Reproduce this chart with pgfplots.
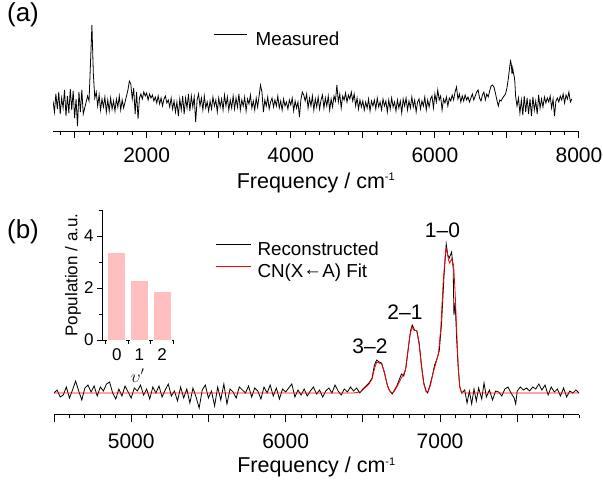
\documentclass[border=0pt]{standalone}
\usepackage{fontspec}
\setmainfont{Liberation Sans}
\usepackage{pgfplots}
\pgfplotsset{compat=1.18}
\definecolor{barpink}{RGB}{255,191,191}
\newcommand{\fs}[1]{\fontsize{#1}{#1}\selectfont}
\begin{document}
\begin{tikzpicture}[x=1pt,y=1pt]
\path[use as bounding box] (0,0) rectangle (603,483);
% ---------------- panel (a)
\begin{axis}[
  at={(53pt,351.3pt)}, anchor=south west, scale only axis,
  width=526pt, height=131.7pt,
  xmin=700, xmax=8000, ymin=-27.7, ymax=104,
  axis x line*=bottom, axis y line=none,
  axis line style={-, line width=1pt},
  xtick={1000,2000,3000,4000,5000,6000,7000,8000},
  xticklabels={,2000,,4000,,6000,,8000},
  minor xtick={800,1000,...,7800},
  tick align=outside, major tick length=6.5pt, minor tick length=3.5pt,
  tick style={line width=1pt, black},
  xticklabel style={font=\fs{21}, anchor=base, yshift=-24.5pt},
  xlabel={Frequency / cm\textsuperscript{\fs{11}-1}},
  xlabel style={font=\fs{21.5}, at={(axis description cs:0.5,-0.4275)}, anchor=base},
  legend style={at={(axis description cs:0.3045,0.696)}, anchor=west, draw=none, fill=none,
    inner sep=0pt, font=\fs{18.8}, legend cell align=left,
    nodes={inner sep=0pt, text height=14pt, text depth=4pt},
    /tikz/every odd column/.append style={column sep=8.5pt}},
  legend image code/.code={\draw[#1] (0pt,6pt) -- (33pt,6pt);},
]
\addplot[black, line width=0.8pt] coordinates {
(700,3) (720,-8) (740,10) (760,-5) (780,12) (800,-10) (820,6) (840,-4) (860,14) (880,-12)
(900,8) (920,-9) (940,15) (960,-6) (980,13) (1000,-14) (1020,5) (1040,-22) (1060,12) (1080,-8)
(1100,14) (1120,-10) (1140,-4) (1160,2) (1180,8) (1200,3) (1220,40) (1240,79) (1260,30) (1280,6)
(1300,12) (1320,-2) (1340,9) (1360,-6) (1380,5) (1400,-3) (1420,7) (1440,-8) (1460,4) (1480,-7)
(1500,6) (1520,-5) (1540,3) (1560,-7) (1580,5) (1600,-3) (1620,8) (1640,-6) (1660,4) (1680,-4)
(1700,2) (1720,8) (1740,14) (1760,23) (1780,20) (1800,5) (1820,16) (1840,-10) (1860,12) (1880,-15)
(1900,6) (1920,10) (1940,5) (1960,12) (1980,8) (2000,11) (2020,4) (2040,10) (2060,6) (2080,9)
(2100,3) (2120,7) (2140,1) (2160,8) (2180,0) (2200,6) (2220,-2) (2240,5) (2260,8) (2280,1)
(2300,4) (2320,-3) (2340,6) (2360,-5) (2380,3) (2400,-8) (2420,2) (2440,-12) (2460,5) (2480,-6)
(2500,8) (2520,-10) (2540,6) (2560,-4) (2580,10) (2600,-7) (2620,8) (2640,-3) (2660,7) (2680,-18)
(2700,4) (2720,10) (2740,-2) (2760,6) (2780,-6) (2800,8) (2820,-4) (2840,2) (2860,-7) (2880,3)
(2900,-5) (2920,7) (2940,-2) (2960,4) (2980,-8) (3000,6) (3020,-3) (3040,5) (3060,-6) (3080,9)
(3100,-2) (3120,7) (3140,-6) (3160,4) (3180,-4) (3200,8) (3220,-5) (3240,6) (3260,-3) (3280,10)
(3300,-6) (3320,4) (3340,-2) (3360,7) (3380,-7) (3400,5) (3420,0) (3440,9) (3460,-4) (3480,3)
(3500,-6) (3520,6) (3540,-3) (3560,8) (3580,19) (3600,12) (3620,-8) (3640,4) (3660,-2) (3680,7)
(3700,-5) (3720,2) (3740,6) (3760,-3) (3780,4) (3800,-2) (3820,8) (3840,-4) (3860,3) (3880,-6)
(3900,5) (3920,-2) (3940,2) (3960,-5) (3980,4) (4000,-1) (4020,6) (4040,-7) (4060,3) (4080,-4)
(4100,2) (4120,-13) (4140,4) (4160,12) (4180,9) (4200,3) (4220,10) (4240,-4) (4260,6) (4280,-2)
(4300,8) (4320,-6) (4340,5) (4360,-3) (4380,7) (4400,-5) (4420,4) (4440,9) (4460,-4) (4480,6)
(4500,-2) (4520,8) (4540,-6) (4560,5) (4580,-3) (4600,8) (4620,3) (4640,19) (4660,2) (4680,10)
(4700,-4) (4720,8) (4740,4) (4760,11) (4780,2) (4800,9) (4820,5) (4840,12) (4860,3) (4880,10)
(4900,-2) (4920,6) (4940,-5) (4960,4) (4980,-3) (5000,3) (5020,-6) (5040,2) (5060,-4) (5080,5)
(5100,-7) (5120,3) (5140,-2) (5160,4) (5180,-5) (5200,6) (5220,-3) (5240,2) (5260,-6) (5280,5)
(5300,-2) (5320,3) (5340,-8) (5360,4) (5380,-5) (5400,6) (5420,-3) (5440,2) (5460,-7) (5480,4)
(5500,-4) (5520,3) (5540,-9) (5560,5) (5580,-2) (5600,6) (5620,-6) (5640,3) (5660,-4) (5680,7)
(5700,-3) (5720,4) (5740,-8) (5760,2) (5780,5) (5800,-5) (5820,3) (5840,-2) (5860,7) (5880,-6)
(5900,4) (5920,-3) (5940,5) (5960,8) (5980,-4) (6000,10) (6020,2) (6040,14) (6060,4) (6080,8)
(6100,-6) (6120,5) (6140,1) (6160,7) (6180,-2) (6200,6) (6220,3) (6240,9) (6260,4) (6280,12)
(6300,17) (6320,5) (6340,10) (6360,2) (6380,8) (6400,3) (6420,9) (6440,4) (6460,7) (6480,2)
(6500,6) (6520,10) (6540,4) (6560,8) (6580,12) (6600,14) (6620,6) (6640,3) (6660,9) (6680,12)
(6700,4) (6720,10) (6740,7) (6760,13) (6780,18) (6800,19) (6820,17) (6840,11) (6860,4) (6880,-2)
(6900,4) (6920,3) (6940,6) (6960,8) (6980,10) (7000,16) (7020,26) (7040,38) (7050,43) (7060,40)
(7070,30) (7080,36) (7090,31) (7100,28) (7110,22) (7120,8) (7140,-2) (7160,6) (7180,-9) (7200,4)
(7220,-11) (7240,8) (7260,-8) (7280,6)
(7300,-10) (7320,5) (7340,-12) (7360,7) (7380,-6) (7400,3) (7420,-10) (7440,9) (7460,-4) (7480,5)
(7500,-3) (7520,7) (7540,1) (7560,6) (7580,2) (7600,8) (7620,-4) (7640,5) (7660,-12) (7680,3)
(7700,6) (7720,2) (7740,8) (7760,4) (7780,10) (7800,1) (7820,9) (7840,5) (7860,12) (7880,2) (7900,5)
};
\addlegendentry{Measured}
\end{axis}
\node[font=\fs{26}] at (23,468) {(a)};
% ---------------- panel (b)
\begin{axis}[
  at={(54pt,68.5pt)}, anchor=south west, scale only axis,
  width=525pt, height=214.5pt,
  xmin=4500, xmax=7900, ymin=-21.5, ymax=193,
  axis x line*=bottom, axis y line=none,
  axis line style={-, line width=1pt},
  xtick={4500,5000,5500,6000,6500,7000,7500},
  xticklabels={,5000,,6000,,7000,},
  minor xtick={4600,4700,...,7900},
  tick align=outside, major tick length=7pt, minor tick length=3.8pt,
  tick style={line width=1pt, black},
  xticklabel style={font=\fs{21}, anchor=base, yshift=-27pt},
  xlabel={Frequency / cm\textsuperscript{\fs{11}-1}},
  xlabel style={font=\fs{21.5}, at={(axis description cs:0.5,-0.2713)}, anchor=base},
  legend style={at={(axis description cs:0.3067,0.7156)}, anchor=west, draw=none, fill=none,
    inner sep=0pt, font=\fs{18.8}, legend cell align=left,
    nodes={inner sep=0pt, text height=14pt, text depth=4pt},
    /tikz/every odd column/.append style={column sep=6.5pt},
    row sep=4pt},
  legend image code/.code={\draw[#1] (0pt,6pt) -- (35pt,6pt);},
]
\addplot[black, line width=0.8pt] coordinates {
(4500,0) (4520,3) (4540,-4) (4560,-2) (4580,6) (4600,-5) (4620,3) (4640,12) (4660,2) (4680,-7)
(4700,5) (4720,8) (4740,1) (4760,7) (4780,-3) (4800,6) (4820,2) (4840,9) (4860,11) (4880,0)
(4900,-6) (4920,4) (4940,-3) (4960,7) (4980,1) (5000,-5) (5020,5) (5040,2) (5060,8) (5080,-2)
(5100,4) (5120,-6) (5140,6) (5160,0) (5180,7) (5200,-4) (5220,3) (5240,9) (5260,-3) (5280,2)
(5300,-8) (5320,6) (5340,-5) (5360,4) (5380,-10) (5400,5) (5420,-4) (5440,-15) (5460,3) (5480,8)
(5500,-5) (5520,2) (5540,-13) (5560,6) (5580,-7) (5600,9) (5620,-11) (5640,4) (5660,1) (5680,-5)
(5700,6) (5720,3) (5740,0) (5760,7) (5780,-4) (5800,5) (5820,2) (5840,-6) (5860,6) (5880,0)
(5900,8) (5920,-3) (5940,5) (5960,-6) (5980,4) (6000,1) (6020,5) (6040,9) (6060,-4) (6080,3)
(6100,-2) (6120,4) (6140,-3) (6160,2) (6180,6) (6200,-1) (6220,3) (6240,-4) (6260,2) (6280,5)
(6300,0) (6320,8) (6340,2) (6360,-2) (6380,4) (6400,1) (6420,6) (6440,2) (6460,5) (6480,0)
(6500,4) (6520,7) (6540,10) (6560,15) (6575,28) (6590,33) (6605,31) (6622,30) (6640,20) (6660,7)
(6675,2) (6690,-1) (6705,3) (6720,7) (6735,13) (6750,19) (6765,17) (6780,26) (6795,45) (6810,63)
(6820,68) (6835,63) (6850,62) (6865,50) (6880,28) (6895,10) (6910,2) (6920,0) (6935,8) (6950,17)
(6965,28) (6980,34) (6995,42) (7010,70) (7025,115) (7040,149) (7050,138) (7060,135) (7075,141) (7085,125)
(7090,78) (7098,90) (7108,53) (7118,25) (7128,6) (7140,0) (7160,3) (7175,-10) (7190,2) (7205,-11)
(7220,4) (7235,-8) (7250,5) (7270,-6) (7285,10) (7300,-4) (7320,3) (7340,-7) (7360,2) (7380,1)
(7400,-3) (7420,4) (7440,6) (7460,0) (7480,-5) (7490,-11) (7500,2) (7520,6) (7540,3) (7560,5)
(7580,2) (7600,6) (7620,4) (7640,9) (7660,3) (7680,8) (7700,-2) (7720,6) (7740,1) (7760,4)
(7780,-3) (7800,5) (7820,-4) (7840,2) (7860,0) (7880,3) (7900,0)
};
\addlegendentry{Reconstructed}
\addplot[red, line width=0.8pt] coordinates {
(4500,0) (6440,0) (6480,1) (6500,3) (6520,6) (6540,9) (6560,14) (6575,24) (6590,31) (6605,30)
(6622,29) (6640,21) (6655,10) (6670,3) (6690,0) (6705,2) (6720,6) (6740,12) (6760,18) (6775,22)
(6790,40) (6805,58) (6818,66) (6830,63) (6850,62) (6865,48) (6880,26) (6895,9) (6910,1) (6925,2)
(6940,9) (6955,20) (6970,28) (6990,40) (7005,65) (7020,110) (7035,140) (7043,144) (7055,133) (7062,130)
(7075,134) (7088,128) (7098,100) (7108,62) (7118,25) (7128,6) (7140,0) (7900,0)
};
\addlegendentry{CN(X\raisebox{1.5pt}{←}A) Fit}
\node[font=\fs{21}] at (axis cs:7016,163) {1–0};
\node[font=\fs{21}] at (axis cs:6773,81) {2–1};
\node[font=\fs{21}] at (axis cs:6546,46.5) {3–2};
\end{axis}
\node[font=\fs{26}] at (23,251) {(b)};
% ---------------- inset
\begin{axis}[
  at={(102pt,143pt)}, anchor=south west, scale only axis,
  width=71.5pt, height=130pt,
  xmin=-0.65, xmax=2.5, ymin=0, ymax=5,
  axis x line*=bottom, axis y line*=left,
  axis line style={-, line width=1pt},
  xtick={0,1,2}, xticklabels={0,1,2},
  major x tick style={draw=none},
  minor xtick={-0.5,0.5,1.5,2.5},
  ytick={0,2,4}, yticklabels={0,2,4},
  minor ytick={1,3,5},
  tick align=outside, major tick length=5pt, minor tick length=3.5pt,
  tick style={line width=1pt, black},
  xticklabel style={font=\fs{17}},
  yticklabel style={font=\fs{17}},
  xlabel={\fs{17}$\upsilon'$},
  xlabel style={at={(axis description cs:0.5,-0.275)}, anchor=center},
  ylabel={Population / a.u.},
  ylabel style={font=\fs{17}, at={(axis description cs:-0.406,0.5)}, anchor=center},
]
\addplot[ybar, bar width=0.8, fill=barpink, draw=white, line width=0.8pt] coordinates {(0,3.38) (1,2.29) (2,1.87)};
\end{axis}
\end{tikzpicture}
\end{document}
